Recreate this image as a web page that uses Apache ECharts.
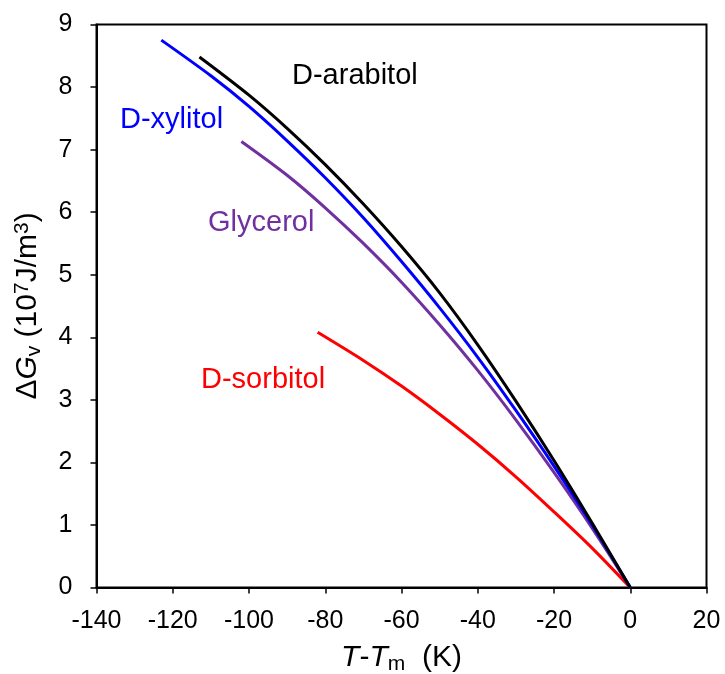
<!DOCTYPE html>
<html><head><meta charset="utf-8">
<script src="https://cdn.jsdelivr.net/npm/echarts@6/dist/echarts.min.js"></script>
<style>html,body{margin:0;padding:0;background:#fff}#c{width:725px;height:674px}</style>
</head><body><div id="c"></div>
<script>
// Data (T - Tm in K, ΔGv in 10^7 J/m^3)
const arabitolT = [-113, -100, -90, -80, -70, -60, -50, -40, -30, -20, -10, 0];
const arabitolG = [8.48, 7.87, 7.34, 6.76, 6.13, 5.45, 4.71, 3.88, 2.98, 2.03, 1.03, 0];
const xylitolT = [-123, -110, -100, -90, -80, -70, -60, -50, -40, -30, -20, -10, 0];
const xylitolG = [8.75, 8.18, 7.69, 7.14, 6.55, 5.91, 5.21, 4.47, 3.68, 2.83, 1.94, 1.00, 0];
const glycerolT = [-102, -90, -80, -70, -60, -50, -40, -30, -20, -10, 0];
const glycerolG = [7.13, 6.59, 6.07, 5.50, 4.88, 4.20, 3.47, 2.68, 1.84, 0.95, 0];
const sorbitolT = [-82, -70, -60, -50, -40, -30, -20, -10, 0];
const sorbitolG = [4.08, 3.63, 3.22, 2.77, 2.29, 1.77, 1.21, 0.63, 0];
const xTicks = [-140, -120, -100, -80, -60, -40, -20, 0, 20];
const yTicks = [0, 1, 2, 3, 4, 5, 6, 7, 8, 9];
const seriesNames = ['D-arabitol', 'D-xylitol', 'Glycerol', 'D-sorbitol'];
const seriesColors = ['#000000', '#0000FF', '#7030A0', '#FF0000'];

const FONT = '"Liberation Sans", Arial, sans-serif';
const pairs = (xs, ys) => xs.map((x, i) => [x, ys[i]]);
const seriesData = [pairs(arabitolT, arabitolG), pairs(xylitolT, xylitolG), pairs(glycerolT, glycerolG), pairs(sorbitolT, sorbitolG)];

const chart = echarts.init(document.getElementById('c'), null, {renderer: 'canvas'});
chart.setOption({
  backgroundColor: '#fff',
  animation: false,
  grid: {left: 96.5, right: 18.5, top: 24.5, bottom: 86.5, containLabel: false, outerBoundsMode: 'none',
         show: true, borderColor: '#000', borderWidth: 2, backgroundColor: 'transparent'},
  xAxis: {
    type: 'value', min: xTicks[0], max: xTicks[xTicks.length - 1], interval: 20,
    axisLine: {show: true, onZero: false, lineStyle: {color: '#000', width: 2}},
    axisTick: {show: true, inside: false, length: 6, lineStyle: {color: '#000', width: 1.5}},
    splitLine: {show: false},
    axisLabel: {color: '#000', fontSize: 25, fontFamily: FONT, margin: 21},
    name: '{i|T}{n|-}{i|T}{s|m}{n|  (K)}', nameLocation: 'middle', nameGap: 54,
    nameTextStyle: {rich: {
      i: {fontStyle: 'italic', fontSize: 30, fontFamily: FONT, color: '#000'},
      n: {fontSize: 30, fontFamily: FONT, color: '#000'},
      s: {fontSize: 21, fontFamily: FONT, color: '#000', padding: [12, 0, 0, 0]}
    }}
  },
  yAxis: {
    type: 'value', min: 0, max: yTicks[yTicks.length - 1], interval: 1,
    axisLine: {show: true, onZero: false, lineStyle: {color: '#000', width: 2}},
    axisTick: {show: true, inside: false, length: 6, lineStyle: {color: '#000', width: 1.5}},
    splitLine: {show: false},
    axisLabel: {color: '#000', fontSize: 25, fontFamily: FONT, margin: 24},
    name: '{n|Δ}{i|G}{s|v}{n| (10}{p|7}{n|J/m}{p|3}{n|)}', nameLocation: 'middle', nameGap: 52, nameRotate: 90,
    nameTextStyle: {rich: {
      i: {fontStyle: 'italic', fontSize: 30, fontFamily: FONT, color: '#000'},
      n: {fontSize: 30, fontFamily: FONT, color: '#000'},
      s: {fontSize: 21, fontFamily: FONT, color: '#000', padding: [12, 0, 0, 0]},
      p: {fontSize: 21, fontFamily: FONT, color: '#000', padding: [0, 0, 12, 0]}
    }}
  },
  series: seriesData.map((d, i) => ({
    name: seriesNames[i], type: 'line', data: d, smooth: 0.3, showSymbol: false, symbol: 'none',
    lineStyle: {color: seriesColors[i], width: 3}, z: 10 - i
  })),
  graphic: [
    {type: 'text', left: 292, top: 61, style: {text: seriesNames[0], fill: seriesColors[0], font: '29px ' + FONT}},
    {type: 'text', left: 120, top: 105, style: {text: seriesNames[1], fill: seriesColors[1], font: '29px ' + FONT}},
    {type: 'text', left: 208, top: 208, style: {text: seriesNames[2], fill: seriesColors[2], font: '29px ' + FONT}},
    {type: 'text', left: 201, top: 365, style: {text: seriesNames[3], fill: seriesColors[3], font: '29px ' + FONT}}
  ]
});
</script></body></html>
